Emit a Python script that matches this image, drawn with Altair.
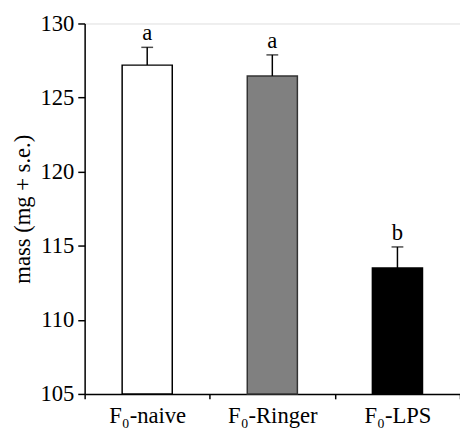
import altair as alt
import pandas as pd

groups = ["F₀-naive", "F₀-Ringer", "F₀-LPS"]
means = [127.19, 126.46, 113.5]
se = [1.2, 1.42, 1.42]
letters = ["a", "a", "b"]
fills = ["#ffffff", "#808080", "#000000"]
strokes = ["#000000", "#333333", "#000000"]

df = pd.DataFrame({
    "group": groups,
    "mean": means,
    "top": [m + s for m, s in zip(means, se)],
    "letter": letters,
    "fill": fills,
    "stroke": strokes,
})

FONT = "Liberation Serif"

x = alt.X("group:N", sort=groups, title=None,
          scale=alt.Scale(paddingInner=0, paddingOuter=0),
          axis=alt.Axis(labelAngle=0, tickBand="extent", tickSize=5,
                        labelPadding=6, labelFont=FONT, labelFontSize=23,
                        labelColor="black", domainColor="black", tickColor="black",
                        domainWidth=1.5, tickWidth=1.5))
yscale = alt.Scale(domain=[105, 130], nice=False, zero=False)

base = alt.Chart(df)

bars = base.mark_bar(size=51, strokeWidth=1.5).encode(
    x=x,
    y=alt.Y("mean:Q", scale=yscale, title="mass (mg + s.e.)",
            axis=alt.Axis(values=[105, 110, 115, 120, 125, 130], grid=False,
                          tickSize=7, labelPadding=4, labelFont=FONT,
                          labelFontSize=23, labelColor="black",
                          titleFont=FONT, titleFontSize=23, titleFontWeight="normal",
                          titleColor="black", titlePadding=6,
                          domainColor="black", tickColor="black",
                          domainWidth=1.5, tickWidth=1.5)),
    y2=alt.datum(105),
    fill=alt.Fill("fill:N", scale=None),
    stroke=alt.Stroke("stroke:N", scale=None),
)

err = base.mark_rule(color="black", strokeWidth=1.5).encode(
    x=alt.X("group:N", sort=groups),
    y=alt.Y("mean:Q", scale=yscale),
    y2="top:Q",
)

cap = base.mark_tick(color="black", size=12, thickness=1.5, orient="horizontal").encode(
    x=alt.X("group:N", sort=groups),
    y=alt.Y("top:Q", scale=yscale),
)

txt = base.mark_text(font=FONT, fontSize=23, baseline="bottom", dy=-2, color="black").encode(
    x=alt.X("group:N", sort=groups),
    y=alt.Y("top:Q", scale=yscale),
    text="letter:N",
)

chart = alt.layer(bars, err, cap, txt).properties(
    width=382, height=377,
    autosize=alt.AutoSizeParams(type="none"),
    padding={"left": 78, "top": 12, "right": 0, "bottom": 36},
).configure_view(stroke=None).configure(background="white")

chart.save("out.html", embed_options={"renderer": "svg", "actions": False})
